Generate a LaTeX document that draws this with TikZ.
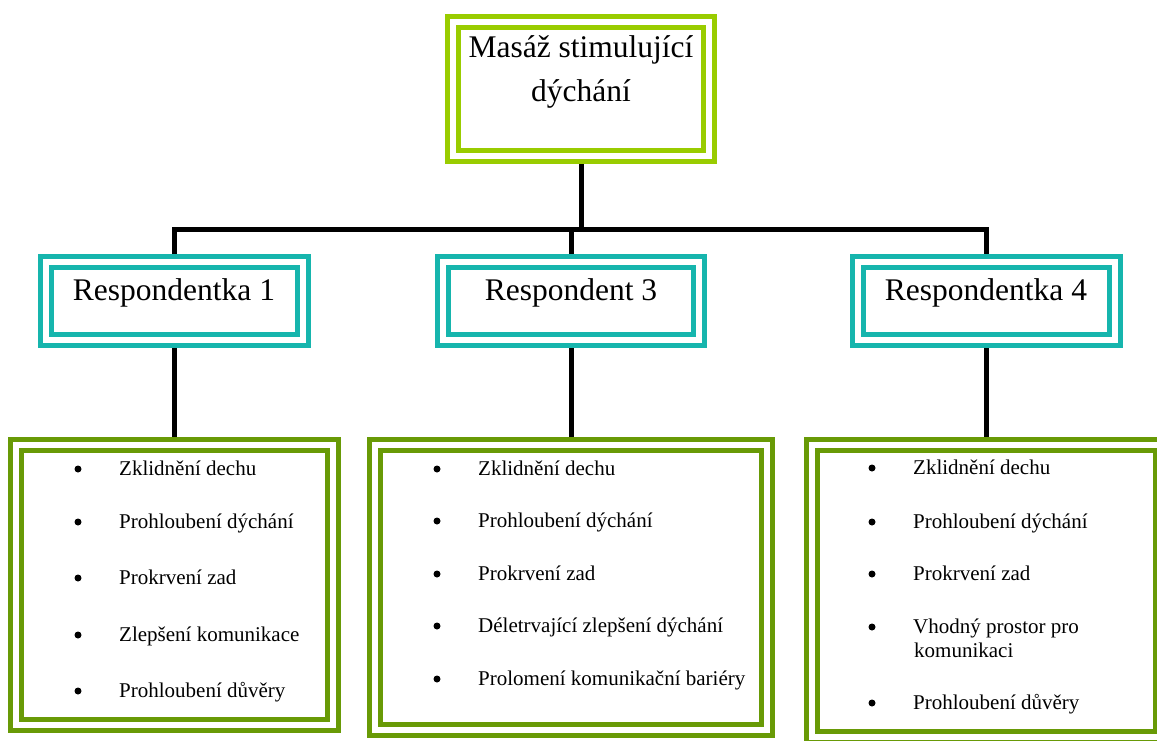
\documentclass[tikz,border=0pt]{standalone}
\usepackage{fontspec}
\setmainfont{Liberation Serif}
\usetikzlibrary{backgrounds}
\definecolor{limegreen}{RGB}{153,204,0}
\definecolor{tealc}{RGB}{22,181,173}
\definecolor{olivec}{RGB}{104,154,6}
\tikzset{
  dframe/.style={draw=#1, line width=5pt, double=white, double distance=6pt, fill=white, inner sep=0pt, shape=rectangle},
  toptext/.style={font=\fontsize{31.5}{44}\selectfont, align=center, inner sep=0pt},
  resptext/.style={font=\fontsize{31.5}{38}\selectfont, inner sep=0pt, anchor=base},
  itemtext/.style={font=\fontsize{21}{24}\selectfont, inner sep=0pt, anchor=base west, align=left},
  bul/.style={circle, fill=black, inner sep=0pt, minimum size=7pt},
  conn/.style={line width=5pt, black}
}
\begin{document}
\begin{tikzpicture}[x=1pt,y=-1pt]
\useasboundingbox (0,0) rectangle (1157,740);
% boxes (centre line rectangles)
\node[dframe=limegreen, minimum width=256pt, minimum height=134pt] (top) at (581,89) {};
\node[dframe=tealc, minimum width=257pt, minimum height=78pt] (r1) at (174.5,301) {};
\node[dframe=tealc, minimum width=256pt, minimum height=78pt] (r3) at (571,301) {};
\node[dframe=tealc, minimum width=257pt, minimum height=78pt] (r4) at (986.5,301) {};
\node[dframe=olivec, minimum width=317pt, minimum height=280pt] (b1) at (174.5,585) {};
\node[dframe=olivec, minimum width=392pt, minimum height=285pt] (b3) at (571,587.5) {};
\node[dframe=olivec, minimum width=349pt, minimum height=292pt] (b4) at (986.5,591) {};
% connectors
\coordinate (bus) at (581,229);
\begin{scope}[on background layer]
\draw[conn] (top.south) -- (bus);
\draw[conn] (r1.north) |- (bus) -| (r4.north);
\draw[conn] (r3.north) -- (r3.north |- bus);
\draw[conn] (r1.south) -- (b1.north);
\draw[conn] (r3.south) -- (b3.north);
\draw[conn] (r4.south) -- (b4.north);
\end{scope}
% texts
\node[toptext, anchor=base] (toptxt) at (581,101) {Masáž stimulující\\dýchání};
\node[resptext] (r1t) at (174,300) {Respondentka 1};
\node[resptext] (r3t) at (571,300) {Respondent 3};
\node[resptext] (r4t) at (986,300) {Respondentka 4};
% box 1 items
\foreach \y/\t [count=\i] in {475/Zklidnění dechu, 528/Prohloubení dýchání, 584/Prokrvení zad, 641/Zlepšení komunikace, 697/Prohloubení důvěry}{
  \node[bul] (b1d\i) at (78,\y-6) {};
  \node[itemtext] (b1t\i) at (119,\y) {\t};
}
% box 3 items
\foreach \y/\t [count=\i] in {475/Zklidnění dechu, 527/Prohloubení dýchání, 580/Prokrvení zad, 632/Déletrvající zlepšení dýchání, 685/Prolomení komunikační bariéry}{
  \node[bul] (b3d\i) at (437,\y-6) {};
  \node[itemtext] (b3t\i) at (478,\y) {\t};
}
% box 4 items
\foreach \y/\t [count=\i] in {474/Zklidnění dechu, 528/Prohloubení dýchání, 580/Prokrvení zad, 709/Prohloubení důvěry}{
  \node[bul] (b4d\i) at (872,\y-6) {};
  \node[itemtext] (b4t\i) at (913,\y) {\t};
}
\node[bul] (b4d5) at (872,627) {};
\node[itemtext] (b4t5) at (913,657) {Vhodný prostor pro\\\hspace*{1pt}komunikaci};
\end{tikzpicture}
\end{document}
